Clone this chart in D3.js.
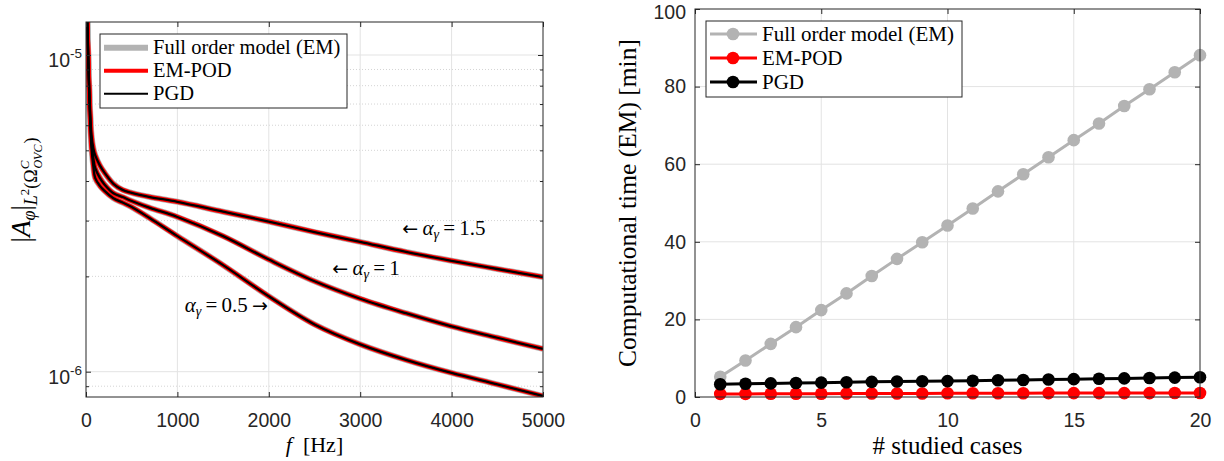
<!DOCTYPE html>
<html>
<head>
<meta charset="utf-8">
<script src="https://cdn.jsdelivr.net/npm/d3@7"></script>
<style>
body{margin:0;background:#fff}
svg{display:block}
.tick text{font-family:"Liberation Sans",Arial,sans-serif;font-size:19.5px;fill:#262626}
.tick line{stroke:#262626}
.serif{font-family:"Liberation Serif","Times New Roman",serif;fill:#000}
.arrow{font-family:"DejaVu Sans",sans-serif}
</style>
</head>
<body>
<svg id="chart" width="1224" height="461"></svg>
<script>
// left panel: norm of A_phi against frequency, one curve per alpha_gamma
const freq = [10, 20, 40, 60, 80, 100, 150, 200, 300, 400, 500, 700, 1000, 1500, 2000, 2500, 3000, 3500, 4000, 4500, 5000];
const amp15 = [1.44e-5, 1.115e-5, 7.21e-6, 5.59e-6, 5.08e-6, 4.83e-6, 4.49e-6, 4.26e-6, 3.92e-6, 3.75e-6, 3.67e-6, 3.56e-6, 3.44e-6, 3.20e-6, 2.98e-6, 2.76e-6, 2.57e-6, 2.39e-6, 2.24e-6, 2.11e-6, 1.99e-6];
const amp10 = [1.44e-5, 1.10e-5, 6.95e-6, 5.31e-6, 4.73e-6, 4.40e-6, 4.10e-6, 3.91e-6, 3.66e-6, 3.56e-6, 3.46e-6, 3.29e-6, 3.08e-6, 2.68e-6, 2.26e-6, 1.93e-6, 1.70e-6, 1.53e-6, 1.39e-6, 1.28e-6, 1.18e-6];
const amp05 = [1.44e-5, 1.083e-5, 6.80e-6, 5.08e-6, 4.46e-6, 4.09e-6, 3.87e-6, 3.73e-6, 3.53e-6, 3.42e-6, 3.31e-6, 3.05e-6, 2.68e-6, 2.17e-6, 1.73e-6, 1.41e-6, 1.22e-6, 1.09e-6, 9.91e-7, 9.12e-7, 8.38e-7];
const alphaValues = ['1.5', '1', '0.5'];
const freqTicks = [0, 1000, 2000, 3000, 4000, 5000];
const ampMajor = [1e-5, 1e-6];
const ampMinor = [9e-7, 2e-6, 3e-6, 4e-6, 5e-6, 6e-6, 7e-6, 8e-6, 9e-6];

// right panel: computational time against number of studied cases
const cases = [1, 2, 3, 4, 5, 6, 7, 8, 9, 10, 11, 12, 13, 14, 15, 16, 17, 18, 19, 20];
const timeFOM = [5.2, 9.4, 13.7, 18.0, 22.4, 26.7, 31.2, 35.6, 39.9, 44.2, 48.6, 53.0, 57.4, 61.8, 66.2, 70.5, 75.0, 79.3, 83.7, 88.1];
const timePOD = [0.8, 0.8, 0.85, 0.85, 0.85, 0.9, 0.9, 0.9, 0.9, 0.95, 0.95, 0.95, 0.95, 1.0, 1.0, 1.0, 1.0, 1.0, 1.05, 1.05];
const timePGD = [3.3, 3.4, 3.5, 3.6, 3.7, 3.8, 3.9, 4.0, 4.05, 4.1, 4.2, 4.3, 4.4, 4.5, 4.6, 4.7, 4.8, 4.9, 5.0, 5.1];
const caseTicks = [0, 5, 10, 15, 20];
const timeTicks = [0, 20, 40, 60, 80, 100];

const legendNames = ['Full order model (EM)', 'EM-POD', 'PGD'];
const gray = '#b3b3b3', red = '#ff0000', black = '#000000', axisCol = '#262626';

const svg = d3.select('#chart');

// ---------- left panel ----------
const L = {left: 86, right: 543, top: 22, bottom: 397};
const xL = d3.scaleLinear().domain([0, 5000]).range([L.left, L.right]);
const yL = d3.scaleLog().domain([8.32e-7, 1.271e-5]).range([L.bottom, L.top]);

const left = svg.append('g');

left.append('defs').append('clipPath').attr('id', 'clipL')
	.append('rect').attr('x', L.left).attr('y', L.top)
	.attr('width', L.right - L.left).attr('height', L.bottom - L.top);

// grid
left.append('g').selectAll('line').data(ampMinor).enter().append('line')
	.attr('x1', L.left).attr('x2', L.right)
	.attr('y1', d => yL(d)).attr('y2', d => yL(d))
	.style('stroke', '#d4d4d4').style('stroke-dasharray', '1,2');
left.append('g').selectAll('line').data(ampMajor).enter().append('line')
	.attr('x1', L.left).attr('x2', L.right)
	.attr('y1', d => yL(d)).attr('y2', d => yL(d))
	.style('stroke', '#e3e3e3');
left.append('g').selectAll('line').data(freqTicks.slice(1, -1)).enter().append('line')
	.attr('y1', L.top).attr('y2', L.bottom)
	.attr('x1', d => xL(d)).attr('x2', d => xL(d))
	.style('stroke', '#e3e3e3');

// curves: full order in gray, POD in red, PGD in black on top
const series = [amp15, amp10, amp05];
const curve = d3.line()
	.x((d, i) => xL(freq[i]))
	.y(d => yL(d))
	.curve(d3.curveCatmullRom.alpha(0.5));
const curves = left.append('g').attr('clip-path', 'url(#clipL)');
[[gray, 6], [red, 4.5], [black, 2.3]].forEach(function(style){
	curves.selectAll(null).data(series).enter().append('path')
		.attr('d', curve)
		.style('fill', 'none')
		.style('stroke', style[0])
		.style('stroke-width', style[1])
		.style('stroke-linejoin', 'round');
});

// axes, ticks pointing inwards
function clean(g){ g.select('.domain').remove(); }
left.append('g').attr('transform', 'translate(0,' + L.bottom + ')')
	.call(d3.axisBottom(xL).tickValues(freqTicks).tickSize(-5).tickSizeOuter(0).tickPadding(15.7).tickFormat(d3.format('d')))
	.call(clean);
left.append('g').attr('transform', 'translate(0,' + L.top + ')')
	.call(d3.axisTop(xL).tickValues(freqTicks).tickSize(-5).tickSizeOuter(0).tickFormat(''))
	.call(clean);
left.append('g').attr('transform', 'translate(' + L.left + ',0)')
	.call(d3.axisLeft(yL).tickValues(ampMajor).tickSize(-5).tickSizeOuter(0).tickFormat(''))
	.call(clean);
left.append('g').attr('transform', 'translate(' + L.left + ',0)')
	.call(d3.axisLeft(yL).tickValues(ampMinor).tickSize(-3).tickSizeOuter(0).tickFormat(''))
	.call(clean);
left.append('g').attr('transform', 'translate(' + L.right + ',0)')
	.call(d3.axisRight(yL).tickValues(ampMajor).tickSize(-5).tickSizeOuter(0).tickFormat(''))
	.call(clean);
left.append('g').attr('transform', 'translate(' + L.right + ',0)')
	.call(d3.axisRight(yL).tickValues(ampMinor).tickSize(-3).tickSizeOuter(0).tickFormat(''))
	.call(clean);

// 10^n labels
const powLabels = left.append('g').selectAll('g').data(ampMajor).enter().append('g')
	.attr('transform', d => 'translate(70,' + yL(d) + ')');
powLabels.append('text').attr('y', 12).attr('text-anchor', 'end')
	.style('font-family', '"Liberation Sans",Arial,sans-serif').style('font-size', '19.5px').style('fill', axisCol)
	.text('10');
powLabels.append('text').attr('x', 0).attr('y', 3)
	.style('font-family', '"Liberation Sans",Arial,sans-serif').style('font-size', '13.5px').style('fill', axisCol)
	.text(d => Math.round(Math.log10(d)));

left.append('rect')
	.attr('x', L.left).attr('y', L.top).attr('width', L.right - L.left).attr('height', L.bottom - L.top)
	.style('fill', 'none').style('stroke', axisCol).style('stroke-width', 1);

// annotations next to the curves
const notes = [
	{f: 3460, a: 2.70e-6, pre: true},
	{f: 2695, a: 2.02e-6, pre: true},
	{f: 1080, a: 1.547e-6, pre: false}
];
notes.forEach(function(n, i){
	const t = left.append('text').attr('class', 'serif')
		.attr('x', xL(n.f)).attr('y', yL(n.a)).style('font-size', '21px');
	if (n.pre) {
		t.append('tspan').attr('class', 'arrow').style('font-size', '19px').text('\u2190');
		t.append('tspan').text('\u2009');
	}
	t.append('tspan').style('font-style', 'italic').text('\u03b1');
	t.append('tspan').style('font-style', 'italic').style('font-size', '14px').attr('dy', 4).text('\u03b3');
	t.append('tspan').attr('dy', -4).text('\u2009=\u2009' + alphaValues[i]);
	if (!n.pre) {
		t.append('tspan').text('\u2009');
		t.append('tspan').attr('class', 'arrow').style('font-size', '19px').text('\u2192');
	}
});

// axis labels
const xLab = left.append('text').attr('class', 'serif')
	.attr('x', (L.left + L.right) / 2).attr('y', 452).attr('text-anchor', 'middle').style('font-size', '22px');
xLab.append('tspan').style('font-style', 'italic').text('f');
xLab.append('tspan').text('\u2002[Hz]');

const yLab = left.append('text').attr('class', 'serif')
	.attr('transform', 'translate(30,190) rotate(-90)').attr('text-anchor', 'middle').style('font-size', '27px');
yLab.append('tspan').style('font-weight', '300').text('|');
yLab.append('tspan').style('font-style', 'italic').text('A');
yLab.append('tspan').style('font-style', 'italic').style('font-size', '18px').attr('dy', 5).text('\u03c6');
yLab.append('tspan').attr('dy', -5).text('|');
yLab.append('tspan').style('font-style', 'italic').style('font-size', '18px').attr('dy', 7).text('L');
yLab.append('tspan').style('font-size', '13px').attr('dy', -8).text('2');
yLab.append('tspan').style('font-size', '18px').attr('dy', 8).text('(\u03a9');
yLab.append('tspan').style('font-style', 'italic').style('font-size', '13px').attr('dy', -8).text('C');
yLab.append('tspan').style('font-style', 'italic').style('font-size', '12px').attr('dx', -8).attr('dy', 13).text('OVC');
yLab.append('tspan').style('font-size', '18px').attr('dy', -5).attr('dx', 1).text(')');

// legend
const legL = left.append('g');
legL.append('rect').attr('x', 100).attr('y', 34).attr('width', 247).attr('height', 74)
	.style('fill', '#fff').style('stroke', axisCol).style('stroke-width', 1);
const legStyles = [[gray, 6], [red, 4], [black, 2]];
legendNames.forEach(function(name, i){
	const yy = 47.7 + i * 23;
	legL.append('line').attr('x1', 104).attr('x2', 148).attr('y1', yy).attr('y2', yy)
		.style('stroke', legStyles[i][0]).style('stroke-width', legStyles[i][1]);
	legL.append('text').attr('class', 'serif').attr('x', 153).attr('y', yy + 6.5)
		.style('font-size', '20.5px').text(name);
});

// ---------- right panel ----------
const R = {left: 695, right: 1200, top: 9, bottom: 397};
const xR = d3.scaleLinear().domain([0, 20]).range([R.left, R.right]);
const yR = d3.scaleLinear().domain([0, 100]).range([R.bottom, R.top]);

const right = svg.append('g');

right.append('g').selectAll('line').data(caseTicks.slice(1, -1)).enter().append('line')
	.attr('x1', d => xR(d)).attr('x2', d => xR(d)).attr('y1', R.top).attr('y2', R.bottom)
	.style('stroke', '#e3e3e3');
right.append('g').selectAll('line').data(timeTicks.slice(1, -1)).enter().append('line')
	.attr('x1', R.left).attr('x2', R.right).attr('y1', d => yR(d)).attr('y2', d => yR(d))
	.style('stroke', '#e3e3e3');

right.append('g').attr('transform', 'translate(0,' + R.bottom + ')')
	.call(d3.axisBottom(xR).tickValues(caseTicks).tickSize(-5).tickSizeOuter(0).tickPadding(15.7))
	.call(clean);
right.append('g').attr('transform', 'translate(0,' + R.top + ')')
	.call(d3.axisTop(xR).tickValues(caseTicks).tickSize(-5).tickSizeOuter(0).tickFormat(''))
	.call(clean);
right.append('g').attr('transform', 'translate(' + R.left + ',0)')
	.call(d3.axisLeft(yR).tickValues(timeTicks).tickSize(-5).tickSizeOuter(0).tickPadding(9))
	.call(clean)
	// top label sits a little lower so it stays inside the page
	.selectAll('.tick text').filter(d => d === 100).attr('dy', '0.5em');
right.append('g').attr('transform', 'translate(' + R.right + ',0)')
	.call(d3.axisRight(yR).tickValues(timeTicks).tickSize(-5).tickSizeOuter(0).tickFormat(''))
	.call(clean);

const timeSeries = [[timeFOM, gray], [timePOD, red], [timePGD, black]];
const tline = d3.line().x((d, i) => xR(cases[i])).y(d => yR(d));
timeSeries.forEach(function(s){
	const g = right.append('g');
	g.append('path').attr('d', tline(s[0]))
		.style('fill', 'none').style('stroke', s[1]).style('stroke-width', 3);
	g.selectAll('circle').data(s[0]).enter().append('circle')
		.attr('cx', (d, i) => xR(cases[i])).attr('cy', d => yR(d)).attr('r', 6.3)
		.style('fill', s[1]);
});

right.append('rect')
	.attr('x', R.left).attr('y', R.top).attr('width', R.right - R.left).attr('height', R.bottom - R.top)
	.style('fill', 'none').style('stroke', axisCol).style('stroke-width', 1);

right.append('text').attr('class', 'serif')
	.attr('x', (R.left + R.right) / 2).attr('y', 454).attr('text-anchor', 'middle')
	.style('font-size', '25px').text('# studied cases');
right.append('text').attr('class', 'serif')
	.attr('transform', 'translate(636,' + ((R.top + R.bottom) / 2) + ') rotate(-90)').attr('text-anchor', 'middle')
	.style('font-size', '25.5px').text('Computational time (EM) [min]');

const legR = right.append('g');
legR.append('rect').attr('x', 706).attr('y', 21).attr('width', 256).attr('height', 76)
	.style('fill', '#fff').style('stroke', axisCol).style('stroke-width', 1);
legendNames.forEach(function(name, i){
	const yy = 34 + i * 24;
	legR.append('line').attr('x1', 710).attr('x2', 757).attr('y1', yy).attr('y2', yy)
		.style('stroke', timeSeries[i][1]).style('stroke-width', 3);
	legR.append('circle').attr('cx', 733).attr('cy', yy).attr('r', 6.3).style('fill', timeSeries[i][1]);
	legR.append('text').attr('class', 'serif').attr('x', 762).attr('y', yy + 6.5)
		.style('font-size', '21px').text(name);
});
</script>
</body>
</html>
